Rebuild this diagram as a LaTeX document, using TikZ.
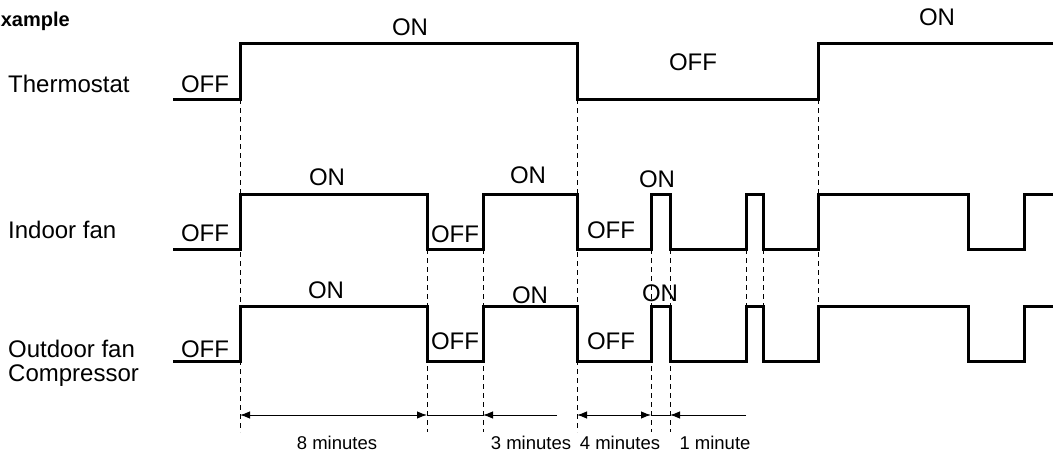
\documentclass[tikz,border=0pt]{standalone}
\usepackage{fontspec}
\setmainfont{Liberation Sans}
\usetikzlibrary{arrows.meta}
\tikzset{
  wave/.style={line width=3pt, line join=miter, line cap=butt},
  guide/.style={line width=1pt, dash pattern=on 5pt off 4pt},
  dim/.style={line width=1pt},
  tipA/.tip={Latex[length=10pt,width=7.5pt]},
  dimtip/.style={-tipA},
  dimboth/.style={tipA-tipA},
  lbl/.style={font=\fontsize{24}{28}\selectfont, anchor=base, inner sep=0pt},
  rowlbl/.style={lbl, anchor=base west},
  small/.style={font=\fontsize{18.5}{22}\selectfont, anchor=base, inner sep=0pt},
  ttl/.style={font=\bfseries\fontsize{20}{24}\selectfont, anchor=base east, inner sep=0pt}
}
\begin{document}
\begin{tikzpicture}[x=1pt,y=-1pt]
\useasboundingbox (0,0) rectangle (1053,455);
% levels
\def\TH{43}\def\TL{99}
\def\IH{194}\def\IL{249}
\def\OH{306}\def\OL{361}
% guide lines
\draw[guide] (240,\TL) -- (240,432);
\draw[guide] (427,\IL) -- (427,432);
\draw[guide] (483,\IL) -- (483,432);
\draw[guide] (577,\TL) -- (577,432);
\draw[guide] (651,\IL) -- (651,432);
\draw[guide] (670,\IL) -- (670,432);
\draw[guide] (746,\IL) -- (746,\OH);
\draw[guide] (763,\IL) -- (763,\OH);
\draw[guide] (818,\TL) -- (818,\OH);
% waveforms
\draw[wave] (173,\TL) -- (240,\TL) -- (240,\TH) -- (577,\TH) -- (577,\TL) -- (818,\TL) -- (818,\TH) -- (1053,\TH);
\draw[wave] (173,\IL) -- (240,\IL) -- (240,\IH) -- (427,\IH) -- (427,\IL) -- (483,\IL) -- (483,\IH) -- (577,\IH) -- (577,\IL) -- (651,\IL) -- (651,\IH) -- (670,\IH) -- (670,\IL) -- (746,\IL) -- (746,\IH) -- (763,\IH) -- (763,\IL) -- (818,\IL) -- (818,\IH) -- (968,\IH) -- (968,\IL) -- (1024,\IL) -- (1024,\IH) -- (1053,\IH);
\draw[wave] (173,\OL) -- (240,\OL) -- (240,\OH) -- (427,\OH) -- (427,\OL) -- (483,\OL) -- (483,\OH) -- (577,\OH) -- (577,\OL) -- (651,\OL) -- (651,\OH) -- (670,\OH) -- (670,\OL) -- (746,\OL) -- (746,\OH) -- (763,\OH) -- (763,\OL) -- (818,\OL) -- (818,\OH) -- (968,\OH) -- (968,\OL) -- (1024,\OL) -- (1024,\OH) -- (1053,\OH);
% dimension coordinates
\coordinate (d1) at (240,415);
\coordinate (d2) at (427,415);
\coordinate (d3) at (483,415);
\coordinate (d3e) at (557,415);
\coordinate (d4) at (577,415);
\coordinate (d5) at (651,415);
\coordinate (d6) at (670,415);
\coordinate (d6e) at (746,415);
\draw[dim, dimboth] (d1) -- (d2);
\draw[dim] (d2) -- (d3);
\draw[dim, dimtip] (d3e) -- (d3);
\draw[dim, dimboth] (d4) -- (d5);
\draw[dim] (d5) -- (d6);
\draw[dim, dimtip] (d6e) -- (d6);
% labels
\node[ttl] (title) at (70,27) {Example};
\node[rowlbl] (thermo) at (8,92) {Thermostat};
\node[rowlbl] (indoor) at (8,238) {Indoor fan};
\node[rowlbl] (outdoor) at (8,357) {Outdoor fan};
\node[rowlbl] (comp) at (8,381) {Compressor};
\node[lbl] (t1) at (205,92) {OFF};
\node[lbl] (t2) at (410,35) {ON};
\node[lbl] (t3) at (693,70) {OFF};
\node[lbl] (t4) at (937,25) {ON};
\node[lbl] (i1) at (205,241) {OFF};
\node[lbl] (i2) at (327,185) {ON};
\node[lbl] (i3) at (455,242) {OFF};
\node[lbl] (i4) at (528,183) {ON};
\node[lbl] (i5) at (611,238) {OFF};
\node[lbl] (i6) at (657,187) {ON};
\node[lbl] (o1) at (205,357) {OFF};
\node[lbl] (o2) at (326,298) {ON};
\node[lbl] (o3) at (455,349) {OFF};
\node[lbl] (o4) at (530,303) {ON};
\node[lbl] (o5) at (611,349) {OFF};
\node[lbl] (o6) at (660,301) {ON};
\node[small] (m8) at (337,449) {8 minutes};
\node[small] (m3) at (531,449) {3 minutes};
\node[small] (m4) at (620,449) {4 minutes};
\node[small] (m1) at (715,449) {1 minute};
\end{tikzpicture}
\end{document}
